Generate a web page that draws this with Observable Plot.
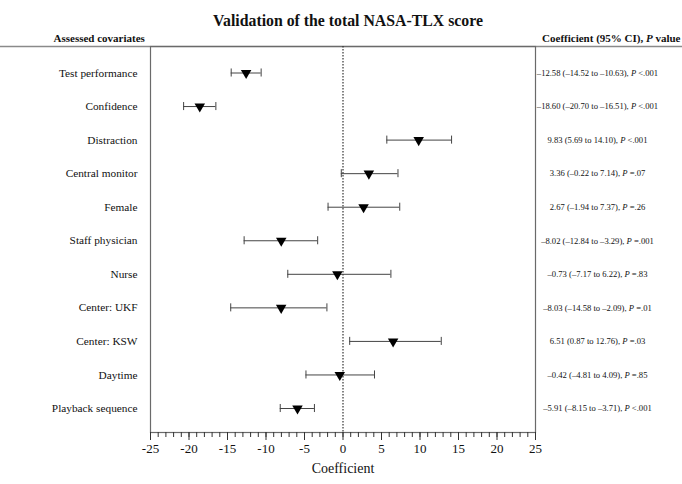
<!DOCTYPE html>
<html>
<head>
<meta charset="utf-8">
<script src="https://cdn.jsdelivr.net/npm/d3@7"></script>
<script src="https://cdn.jsdelivr.net/npm/@observablehq/plot@0.6"></script>
<style>
  html, body { margin: 0; padding: 0; background: #fff; }
  #chart svg { display: block; }
</style>
</head>
<body>
<div id="chart"></div>
<script>
const categories = ["Test performance", "Confidence", "Distraction", "Central monitor", "Female",
  "Staff physician", "Nurse", "Center: UKF", "Center: KSW", "Daytime", "Playback sequence"];
const coef = [-12.58, -18.60, 9.83, 3.36, 2.67, -8.02, -0.73, -8.03, 6.51, -0.42, -5.91];
const lower = [-14.52, -20.70, 5.69, -0.22, -1.94, -12.84, -7.17, -14.58, 0.87, -4.81, -8.15];
const upper = [-10.63, -16.51, 14.10, 7.14, 7.37, -3.29, 6.22, -2.09, 12.76, 4.09, -3.71];
const pValues = ["<.001", "<.001", "<.001", "=.07", "=.26", "=.001", "=.83", "=.01", "=.03", "=.85", "<.001"];
const xTicks = [-25, -20, -15, -10, -5, 0, 5, 10, 15, 20, 25];

const fmt = v => (v < 0 ? "\u2013" : "") + Math.abs(v).toFixed(2);
const rows = categories.map((c, i) => ({
  i, name: c, coef: coef[i], lo: lower[i], hi: upper[i],
  label: `${fmt(coef[i])} (${fmt(lower[i])} to ${fmt(upper[i])}), P ${pValues[i]}`
}));

const serif = "'Liberation Serif', 'DejaVu Serif', serif";
const W = 682, H = 484, ML = 150, MR = 147, MT = 46, MB = 52;
const xPerPx = 50 / (W - ML - MR);
const xLeftEdge = -25 - ML * xPerPx, xRightEdge = 25 + MR * xPerPx;
const yTop = -0.79, yBottom = 10.715;
const cap = 0.12;

const plot = Plot.plot({
  width: W, height: H,
  marginLeft: ML, marginRight: MR, marginTop: MT, marginBottom: MB,
  style: { fontFamily: serif, background: "#fff", overflow: "visible" },
  x: { domain: [-25, 25] },
  y: { domain: [yTop, yBottom], reverse: true, axis: null },
  marks: [
    Plot.ruleY([yTop], { x1: xLeftEdge, x2: xRightEdge, stroke: "#8a8a8a", strokeWidth: 1.5 }),
    Plot.frame({ stroke: "#6a6a6a", strokeWidth: 1.2 }),
    Plot.ruleX([0], { stroke: "#333", strokeDasharray: "1.5,1.5", strokeWidth: 1.2 }),
    Plot.axisX({ ticks: d3.range(-25, 26, 1), tickSize: 5, tickFormat: () => "", stroke: "#333" }),
    Plot.axisX({ ticks: xTicks, tickSize: 8, tickPadding: 3, fontSize: 13, stroke: "#333",
      tickFormat: d => String(d), label: null, fill: "#111" }),
    Plot.text(["Coefficient"], { frameAnchor: "bottom", dy: 40, fontSize: 14, fill: "#111" }),
    // error bars
    Plot.ruleY(rows, { y: "i", x1: "lo", x2: "hi", stroke: "#444", strokeWidth: 1 }),
    Plot.ruleX(rows, { x: "lo", y1: d => d.i - cap, y2: d => d.i + cap, stroke: "#444", strokeWidth: 1 }),
    Plot.ruleX(rows, { x: "hi", y1: d => d.i - cap, y2: d => d.i + cap, stroke: "#444", strokeWidth: 1 }),
    Plot.dot(rows, { x: "coef", y: "i", symbol: "triangle", rotate: 180, r: 3.9, fill: "#000", stroke: "none" }),
    // left labels
    Plot.text(rows, { x: -25, y: "i", text: "name", dx: -13, textAnchor: "end", fontSize: 11.3, fill: "#111" }),
    // right labels
    Plot.text(rows, { x: 25, y: "i", text: "label", dx: 62, textAnchor: "middle", fontSize: 8.6, fill: "#111" }),
    // headers
    Plot.text(["Assessed covariates"], { frameAnchor: "top-left", dx: -97, dy: -12, fontSize: 11, fontWeight: "bold", fill: "#111" }),
    Plot.text(["Coefficient (95% CI), P value"], { frameAnchor: "top-right", dx: 145, dy: -12, textAnchor: "end", fontSize: 11, fontWeight: "bold", fill: "#111" }),
    Plot.text(["Validation of the total NASA-TLX score"], { frameAnchor: "top", dx: 5, dy: -32, fontSize: 15.8, fontWeight: "bold", fill: "#111" })
  ]
});

// Italic "P" in the value labels and header
d3.select(plot).selectAll("text").each(function () {
  const t = this.textContent;
  const k = t.indexOf(", P ");
  if (k >= 0 && this.childElementCount === 0) {
    const sel = d3.select(this);
    this.textContent = "";
    sel.append("tspan").text(t.slice(0, k + 2));
    sel.append("tspan").attr("font-style", "italic").text("P");
    sel.append("tspan").text(t.slice(k + 3));
  }
});

document.getElementById("chart").appendChild(plot);
</script>
</body>
</html>
